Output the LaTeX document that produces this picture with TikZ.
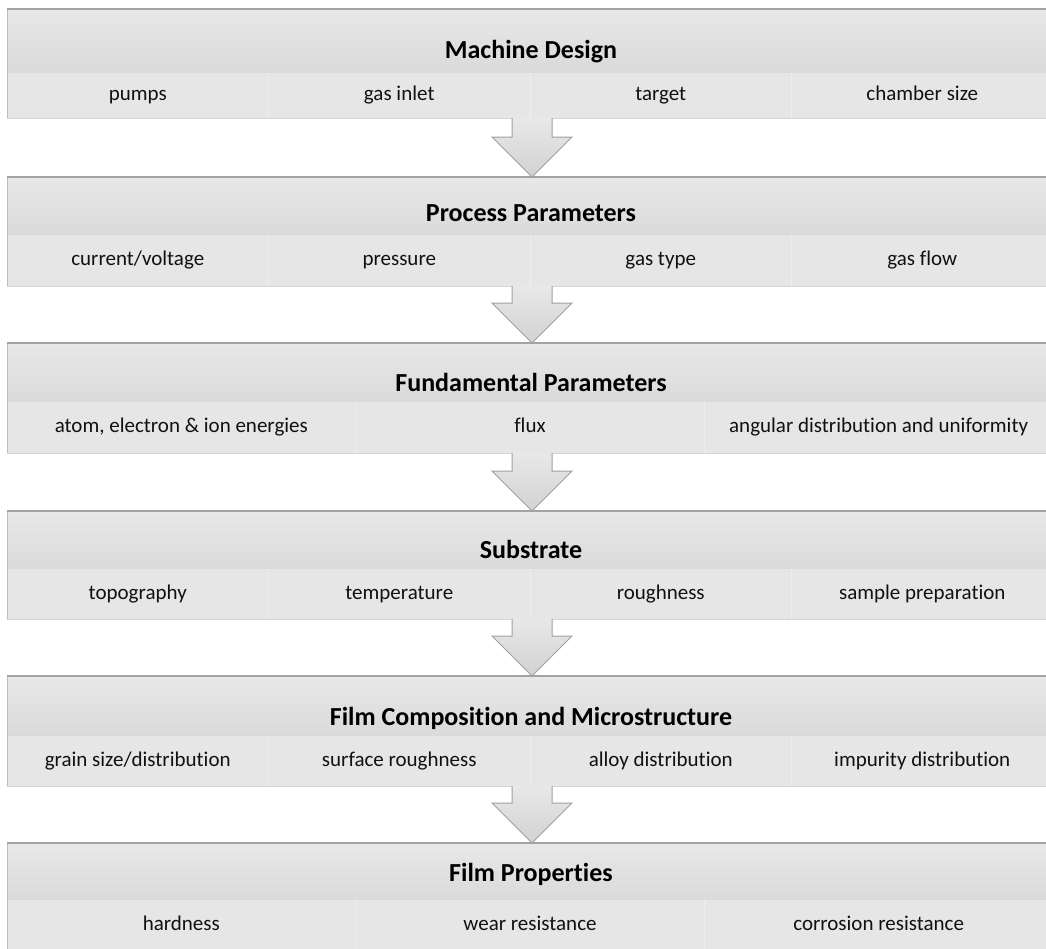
\documentclass[tikz,border=0pt]{standalone}
\usepackage{fontspec}
\setmainfont[Ligatures=NoCommon]{Carlito}
\usetikzlibrary{calc}
\definecolor{hdrtop}{HTML}{E8E8E8}
\definecolor{hdrbot}{HTML}{DADADA}
\definecolor{cellfill}{HTML}{E6E6E6}
\definecolor{topedge}{HTML}{A3A3A3}
\definecolor{sideedge}{HTML}{BDBDBD}
\definecolor{botedge}{HTML}{D6D6D6}
\definecolor{divider}{HTML}{EEEEEE}
\definecolor{arrtop}{HTML}{E8E8E8}
\definecolor{arrbot}{HTML}{D2D2D2}
\definecolor{arredge}{HTML}{A0A0A0}
\definecolor{celltext}{HTML}{111111}
\tikzset{
  header/.style={rectangle, draw=none, top color=hdrtop, bottom color=hdrbot,
    minimum width=1046pt, anchor=north west, inner sep=0pt, outer sep=0pt},
  cellbox/.style={rectangle, fill=cellfill, draw=none, anchor=north west,
    inner sep=0pt, outer sep=0pt, font=\fontsize{21}{25}\selectfont,
    text=celltext, text height=15.75pt, text depth=5.25pt},
  titletext/.style={anchor=base, font=\fontsize{26}{31}\selectfont\bfseries, text=black},
  topline/.style={draw=topedge, line width=1.3pt},
  sideline/.style={draw=sideedge, line width=1pt},
  botline/.style={draw=botedge, line width=1pt},
  divline/.style={draw=divider, line width=1pt},
  arrowbody/.style={draw=arredge, line width=1pt, top color=arrtop, bottom color=arrbot, line join=miter},
}
\newcommand\flowarrow[2]{%
  \path[arrowbody] let \p1=(#1.south), \p2=(#2.north) in
    (512pt,\y1) -- (512pt,\y2+40pt) -- (492pt,\y2+40pt) -- (532pt,\y2)
    -- (572pt,\y2+40pt) -- (552pt,\y2+40pt) -- (552pt,\y1);
}
\begin{document}
\begin{tikzpicture}[x=1pt,y=-1pt]
\useasboundingbox (0,0) rectangle (1046,948);
\clip (0,0) rectangle (1046,948);

% ---------- Block 1 ----------
\node[header, minimum height=64pt] (h1) at (7,9) {};
\node[cellbox, minimum width=261.5pt, minimum height=45pt] (c11) at (7,73) {pumps};
\node[cellbox, minimum width=261.5pt, minimum height=45pt] (c12) at (268.5,73) {gas inlet};
\node[cellbox, minimum width=261.5pt, minimum height=45pt] (c13) at (530,73) {target};
\node[cellbox, minimum width=261.5pt, minimum height=45pt] (c14) at (791.5,73) {chamber size};
\node[titletext] (t1) at (531,58) {Machine Design};

% ---------- Block 2 ----------
\node[header, minimum height=58pt] (h2) at (7,177) {};
\node[cellbox, minimum width=261.5pt, minimum height=51pt] (c21) at (7,235) {current/voltage};
\node[cellbox, minimum width=261.5pt, minimum height=51pt] (c22) at (268.5,235) {pressure};
\node[cellbox, minimum width=261.5pt, minimum height=51pt] (c23) at (530,235) {gas type};
\node[cellbox, minimum width=261.5pt, minimum height=51pt] (c24) at (791.5,235) {gas flow};
\node[titletext] (t2) at (531,221) {Process Parameters};

% ---------- Block 3 ----------
\node[header, minimum height=59pt] (h3) at (7,343) {};
\node[cellbox, minimum width=348.67pt, minimum height=51pt] (c31) at (7,402) {atom, electron \& ion energies};
\node[cellbox, minimum width=348.67pt, minimum height=51pt] (c32) at (355.67,402) {flux};
\node[cellbox, minimum width=348.67pt, minimum height=51pt] (c33) at (704.33,402) {angular distribution and uniformity};
\node[titletext] (t3) at (531,391) {Fundamental Parameters};

% ---------- Block 4 ----------
\node[header, minimum height=58pt] (h4) at (7,511) {};
\node[cellbox, minimum width=261.5pt, minimum height=50pt] (c41) at (7,569) {topography};
\node[cellbox, minimum width=261.5pt, minimum height=50pt] (c42) at (268.5,569) {temperature};
\node[cellbox, minimum width=261.5pt, minimum height=50pt] (c43) at (530,569) {roughness};
\node[cellbox, minimum width=261.5pt, minimum height=50pt] (c44) at (791.5,569) {sample preparation};
\node[titletext] (t4) at (531,558) {Substrate};

% ---------- Block 5 ----------
\node[header, minimum height=60pt] (h5) at (7,676) {};
\node[cellbox, minimum width=261.5pt, minimum height=50pt] (c51) at (7,736) {grain size/distribution};
\node[cellbox, minimum width=261.5pt, minimum height=50pt] (c52) at (268.5,736) {surface roughness};
\node[cellbox, minimum width=261.5pt, minimum height=50pt] (c53) at (530,736) {alloy distribution};
\node[cellbox, minimum width=261.5pt, minimum height=50pt] (c54) at (791.5,736) {impurity distribution};
\node[titletext] (t5) at (531,725) {Film Composition and Microstructure};

% ---------- Block 6 ----------
\node[header, minimum height=57pt] (h6) at (7,843) {};
\node[cellbox, minimum width=348.67pt, minimum height=50pt] (c61) at (7,900) {hardness};
\node[cellbox, minimum width=348.67pt, minimum height=50pt] (c62) at (355.67,900) {wear resistance};
\node[cellbox, minimum width=348.67pt, minimum height=50pt] (c63) at (704.33,900) {corrosion resistance};
\node[titletext] (t6) at (531,881) {Film Properties};

% ---------- block edges ----------
\foreach \h/\ca/\cb in {h1/c11/c14, h2/c21/c24, h3/c31/c33, h4/c41/c44, h5/c51/c54, h6/c61/c63}{
  \draw[sideline] (\h.north west) -- (\ca.south west);
  \draw[botline] (\ca.south west) -- (\cb.south east);
  \draw[topline] (\h.north west) -- (\h.north east);
}
\foreach \a/\b in {c11/c12, c12/c13, c13/c14, c21/c22, c22/c23, c23/c24,
                   c31/c32, c32/c33, c41/c42, c42/c43, c43/c44,
                   c51/c52, c52/c53, c53/c54, c61/c62, c62/c63}{
  \draw[divline] (\a.north east) -- (\a.south east);
}

% ---------- arrows ----------
\flowarrow{c12}{h2}
\flowarrow{c22}{h3}
\flowarrow{c32}{h4}
\flowarrow{c42}{h5}
\flowarrow{c52}{h6}
\end{tikzpicture}
\end{document}
